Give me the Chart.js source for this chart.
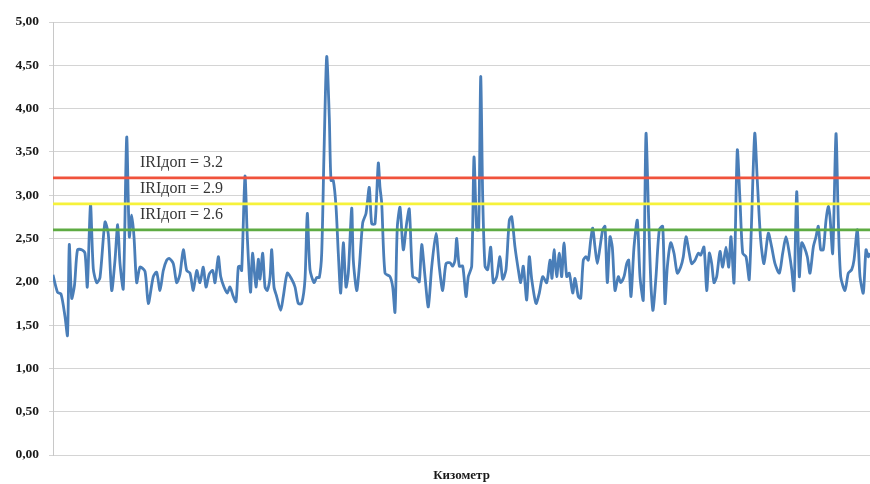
<!DOCTYPE html>
<html>
<head>
<meta charset="utf-8">
<script src="https://cdn.jsdelivr.net/npm/chart.js@4/dist/chart.umd.min.js"></script>
<style>
  html, body { margin: 0; padding: 0; background: #ffffff; }
  canvas { display: block; }
</style>
</head>
<body>
<canvas id="chart" width="870" height="484"></canvas>
<script>
// Road roughness (IRI) measured along the route
const chainage = [
  0, 4.5, 8, 12, 14.5, 16.3, 18.7, 21.5, 24.5, 28.7, 32, 34.3, 37.5, 40.3, 43.7, 47, 52, 55.3, 58.7, 62,
  64.7, 67, 70.3, 73.7, 76.3, 78.7, 81, 83.7, 87, 92, 95.3, 100.3, 103.7, 107, 110.3, 113.7, 116.3, 120.3, 123.7, 127,
  130.3, 133.7, 137, 140.3, 143.7, 147, 150.3, 153, 156.3, 159.7, 162, 165.3, 167.7, 171, 174.3, 177, 180.3, 183, 185.3, 187,
  188.7, 192, 194.3, 197.5, 199.5, 203, 205.3, 207, 209.7, 212, 214.3, 217, 218.7, 221, 223.7, 227.7, 230.3, 234.3, 238.7, 242,
  245.3, 248.7, 252, 254.3, 257, 261, 263.7, 266.3, 268.7, 271, 273.7, 276.3, 278, 280.3, 283, 285.3, 287.7, 290.3, 293, 295.3,
  298.7, 300.3, 303.7, 306.3, 309.7, 313, 316.3, 318.7, 322, 325.3, 327, 328.7, 332, 337, 339.7, 342, 344.3, 347, 350.3, 353.7,
  356.3, 359.7, 363.7, 366.3, 368.7, 372, 375.3, 378.7, 383, 386.3, 389.7, 393, 397, 399.7, 402, 403.7, 406.3, 409.7, 413, 415.3,
  418.7, 421, 423.7, 425.7, 427.7, 429.7, 432, 434.7, 437.7, 440.3, 443.7, 447, 449.7, 453, 456.3, 458.7, 462, 465.3, 467.7, 470.3,
  473.7, 476.3, 478.7, 483, 486.3, 489.7, 493.7, 497, 499, 501, 503.7, 506.3, 508.7, 511, 513.7, 516.3, 519.7, 522, 525.3, 527.7,
  530.3, 533, 535.3, 537.7, 539.7, 542, 544.3, 547, 549.7, 552, 554.3, 557, 559.3, 562, 565.3, 567.7, 571, 573.7, 575.7, 578,
  581, 584.3, 587, 590.3, 593, 595.7, 598, 600, 603, 606.3, 609.7, 612, 614.3, 617.7, 621, 624.3, 627.7, 630.3, 633, 636.3,
  638.7, 642, 645.3, 647.7, 651, 653.7, 656.3, 658.7, 661, 663.7, 667, 669.7, 673, 675.7, 678, 681, 684.3, 687, 689.7, 693,
  696.3, 701.7, 704.3, 707.7, 711, 715.3, 718.7, 722, 726.3, 729.7, 733, 736.3, 738.7, 741, 743.7, 746.3, 748.7, 751.3, 754.3, 757,
  760.3, 763, 765.3, 767.7, 770.3, 773, 775.3, 777, 779.7, 783, 785.3, 787.7, 792, 795.3, 798.7, 801, 804.3, 807, 810.3, 813,
  815.3, 817
];
const iri = [
  2.08, 1.88, 1.86, 1.60, 1.38, 2.43, 1.81, 1.96, 2.37, 2.37, 2.33, 1.94, 2.89, 2.15, 1.99, 2.05, 2.69, 2.55, 1.90, 2.25,
  2.66, 2.21, 1.92, 3.67, 2.52, 2.77, 2.52, 1.99, 2.17, 2.12, 1.75, 2.06, 2.11, 1.90, 2.13, 2.25, 2.27, 2.21, 1.99, 2.09,
  2.37, 2.13, 2.10, 1.90, 2.13, 1.99, 2.17, 1.94, 2.09, 2.13, 1.99, 2.29, 2.06, 1.94, 1.87, 1.94, 1.83, 1.77, 2.17, 2.18,
  2.13, 3.22, 2.52, 1.88, 2.33, 1.94, 2.26, 2.03, 2.33, 1.94, 1.90, 2.05, 2.37, 1.94, 1.83, 1.67, 1.83, 2.10, 2.03, 1.94,
  1.75, 1.75, 2.03, 2.79, 2.14, 1.99, 2.05, 2.05, 2.33, 3.48, 4.60, 3.90, 3.17, 3.17, 2.87, 2.33, 1.87, 2.45, 1.94, 2.10,
  2.85, 2.25, 1.90, 2.17, 2.68, 2.79, 3.09, 2.67, 2.67, 3.37, 3.09, 2.91, 2.10, 2.06, 1.94, 1.65, 2.63, 2.86, 2.37, 2.68,
  2.84, 2.06, 2.04, 2.00, 2.43, 2.06, 1.71, 2.17, 2.56, 2.17, 1.90, 2.21, 2.22, 2.18, 2.25, 2.50, 2.18, 2.18, 1.83, 2.06,
  2.18, 3.44, 2.60, 2.60, 4.37, 2.98, 2.18, 2.14, 2.40, 1.99, 2.06, 2.29, 2.03, 2.14, 2.71, 2.75, 2.40, 2.14, 1.99, 2.18,
  1.79, 2.29, 2.03, 1.75, 1.87, 2.06, 1.99, 2.25, 2.04, 2.37, 2.06, 2.33, 2.06, 2.45, 2.06, 2.10, 1.87, 2.04, 1.83, 1.81,
  2.25, 2.29, 2.25, 2.48, 2.62, 2.40, 2.21, 2.40, 2.60, 2.64, 1.99, 2.52, 2.40, 1.90, 2.06, 1.99, 2.06, 2.21, 2.25, 1.83,
  2.40, 2.71, 2.06, 1.79, 3.71, 2.71, 1.95, 1.67, 2.06, 2.60, 2.64, 1.75, 2.17, 2.45, 2.33, 2.10, 2.17, 2.29, 2.52, 2.33,
  2.21, 2.25, 2.33, 2.31, 2.40, 1.90, 2.33, 2.21, 1.99, 2.06, 2.35, 2.17, 2.40, 2.17, 2.52, 1.99, 3.52, 2.94, 2.33, 2.29,
  2.03, 3.71, 3.17, 2.48, 2.21, 2.56, 2.40, 2.21, 2.10, 2.33, 2.52, 2.33, 2.14, 1.90, 3.04, 2.06, 2.45, 2.40, 2.29, 2.10,
  2.40, 2.52, 2.64, 2.37, 2.37, 2.71, 2.87, 2.75, 2.33, 3.71, 2.71, 2.06, 1.90, 2.10, 2.14, 2.25, 2.60, 2.06, 1.87, 2.37,
  2.29, 2.33
];

// Permissible IRI levels
const thresholds = [3.2, 2.9, 2.6];
const thresholdLabels = ['IRIдоп = 3.2', 'IRIдоп = 2.9', 'IRIдоп = 2.6'];
const thresholdColors = ['#f0523c', '#f6f23a', '#5eab42'];

// Value axis tick labels
const yTickValues = [0, 0.5, 1, 1.5, 2, 2.5, 3, 3.5, 4, 4.5, 5];
const xTitle = 'Кизометр';

const firstKm = chainage[0];
const lastKm = chainage[chainage.length - 1];

const thresholdSets = thresholds.map((t, i) => ({
  label: thresholdLabels[i],
  data: [{ x: firstKm, y: t }, { x: lastKm, y: t }],
  borderColor: thresholdColors[i],
  borderWidth: 2.6,
  pointRadius: 0,
  tension: 0
}));

const iriSet = {
  label: 'IRI',
  data: chainage.map((km, i) => ({ x: km, y: iri[i] })),
  borderColor: '#4a7eb8',
  borderWidth: 2.8,
  pointRadius: 0,
  tension: 0.25,
  borderJoinStyle: 'round'
};

// Text tags written above each permissible level line
const levelTags = {
  id: 'levelTags',
  afterDatasetsDraw(chart) {
    const { ctx, scales: { x, y } } = chart;
    ctx.save();
    ctx.font = '16px "Liberation Serif"';
    ctx.fillStyle = '#363636';
    ctx.textAlign = 'left';
    ctx.textBaseline = 'middle';
    thresholds.forEach((t, i) => {
      ctx.fillText(thresholdLabels[i], x.getPixelForValue(87), y.getPixelForValue(t) - 15.5);
    });
    ctx.restore();
  }
};

Chart.defaults.font.family = '"Liberation Serif", serif';

new Chart(document.getElementById('chart'), {
  type: 'line',
  data: { datasets: [...thresholdSets, iriSet] },
  options: {
    responsive: false,
    animation: false,
    events: [],
    layout: { padding: { top: 22, right: 0, bottom: 0, left: 0 } },
    plugins: { legend: { display: false }, tooltip: { enabled: false } },
    scales: {
      x: {
        type: 'linear',
        min: firstKm,
        max: lastKm,
        grid: { display: false },
        border: { display: false },
        ticks: { display: false },
        title: {
          display: true,
          text: xTitle,
          color: '#1a1a1a',
          font: { size: 13, weight: 'bold' },
          padding: { top: 0, bottom: 1 }
        },
        afterFit(scale) { scale.height = 29; }
      },
      y: {
        min: 0,
        max: 5,
        afterBuildTicks(scale) { scale.ticks = yTickValues.map(v => ({ value: v })); },
        ticks: {
          color: '#1a1a1a',
          padding: 10,
          font: { size: 13.5, weight: 'bold' },
          callback: v => v.toFixed(2).replace('.', ',')
        },
        grid: { color: '#d4d4d4', lineWidth: 1, tickLength: 4 },
        border: { display: true, color: '#c8c8c8', width: 1 },
        afterFit(scale) { scale.width = 53; }
      }
    }
  },
  plugins: [levelTags]
});
</script>
</body>
</html>
